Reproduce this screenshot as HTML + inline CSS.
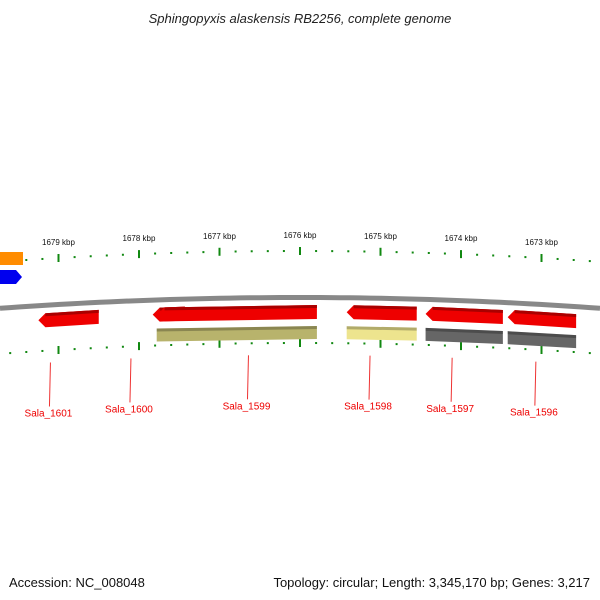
<!DOCTYPE html>
<html><head><meta charset="utf-8"><style>
body{margin:0;background:#fff;}
svg{display:block;font-family:"Liberation Sans","DejaVu Sans",sans-serif;}
</style></head><body>
<svg id="c" width="600" height="600" viewBox="0 0 600 600">
<defs>
<linearGradient id="gBack" x1="0" y1="0" x2="0" y2="1"><stop offset="0" stop-color="#555"/><stop offset="0.5" stop-color="#aaa"/><stop offset="1" stop-color="#777"/></linearGradient>
</defs>
<text x="300" y="23" text-anchor="middle" font-size="13" font-style="italic" fill="#222">Sphingopyxis alaskensis RB2256, complete genome</text>
<g id="ticks"></g>
<g id="genes"></g>
<g id="labels"></g>
<text x="9" y="587" font-size="13" fill="#111">Accession: NC_008048</text>
<text x="590" y="587" font-size="13" fill="#111" text-anchor="end">Topology: circular; Length: 3,345,170 bp; Genes: 3,217</text>
</svg>
<script>
const kbpTicks=[1679,1678,1677,1676,1675,1674,1673];
const geneNames=["Sala_1601","Sala_1600","Sala_1599","Sala_1598","Sala_1597","Sala_1596"];
const geneStart=[1679.25,1677.83,1677.77,1675.42,1674.44,1673.42];
const geneEnd=[1678.5,1677.43,1675.79,1674.55,1673.48,1672.57];
const geneColors=["#ee0000","#ee0000","#ee0000","#ee0000","#ee0000","#ee0000"];
const featStart=[null,null,1677.78,1675.42,1674.44,1673.42];
const featEnd=[null,null,1675.79,1674.55,1673.48,1672.57];
const featColors=[null,null,"#b8b36c","#ede48e","#666666","#666666"];
const labelKbp=[1679.1,1678.1,1676.64,1675.13,1674.11,1673.07];

const NS="http://www.w3.org/2000/svg";
const X=k=>300-(k-1676)*80.5;
const arc=(x,yc)=>yc+1.2e-4*(x-300)*(x-300);
function mk(p,tag,a){const e=document.createElementNS(NS,tag);for(const k in a)e.setAttribute(k,a[k]);p.appendChild(e);return e;}
const T=document.getElementById('ticks'),G=document.getElementById('genes'),L=document.getElementById('labels');

// backbone
let d="";for(let x=0;x<=600;x+=10){d+=(x?"L":"M")+x+","+arc(x,297.5).toFixed(2);}
const bb=mk(G,'path',{d:d,stroke:"#888",'stroke-width':5,fill:"none"});



// ticks
for(let i=-6;i<=66;i++){
  const k=1680-i*0.2; const x=X(k); if(x<0||x>600)continue;
  const major=Math.abs(k-Math.round(k))<1e-6;
  [[arc(x,251),'top'],[arc(x,343),'bottom']].forEach(([y,s])=>{
    const t=mk(T,'rect',{x:x-1,y:major?y-4:y-1,width:major?2:2,height:major?8:2,fill:"#118811"});
    
    
  });
}
kbpTicks.forEach(k=>{const x=X(k);
  const t=mk(T,'text',{x:x,y:arc(x,238),'font-size':8,'text-anchor':'middle',fill:"#111"});
  t.textContent=k+" kbp";
  
  
});

// side genes
const o=mk(G,'rect',{x:0,y:252,width:23,height:13,fill:"#ff8c00"});


const b=mk(G,'polygon',{points:"0,270 16,270 22,277 16,284 0,284",fill:"#0000ee"});



geneNames.forEach((n,i)=>{
  const x1=X(geneStart[i]),x2=X(geneEnd[i]);
  const ya=arc(x1,305),yb=arc(x2,305),h=14;
  const p=mk(G,'polygon',{points:`${x1},${ya+h/2} ${x1+7},${ya} ${x2},${yb} ${x2},${yb+h} ${x1+7},${ya+h}`,fill:geneColors[i]});
  
  
  mk(G,'polygon',{points:`${x1+7},${ya} ${x2},${yb} ${x2},${yb+3} ${x1+7},${ya+3}`,fill:"#aa0000"});
  if(featStart[i]!==null){
    const f1=X(featStart[i]),f2=X(featEnd[i]);
    const fa=arc(f1,326),fb=arc(f2,326);
    const r=mk(G,'polygon',{points:`${f1},${fa} ${f2},${fb} ${f2},${fb+13} ${f1},${fa+13}`,fill:featColors[i]});
    
    
    mk(G,'polygon',{points:`${f1},${fa} ${f2},${fb} ${f2},${fb+3} ${f1},${fa+3}`,fill:"#000",opacity:0.25});
  }
  const lx=X(labelKbp[i]);
  const ly=arc(lx,355);
  const ln=mk(L,'line',{x1:lx,y1:ly,x2:lx-1,y2:ly+44,stroke:"#ee3333",'stroke-width':1});
  
  
  const t=mk(L,'text',{x:lx-2,y:ly+54,'font-size':10,'text-anchor':'middle',fill:"#ee0000"});
  t.textContent=n;
  
  
});
</script>
</body></html>
